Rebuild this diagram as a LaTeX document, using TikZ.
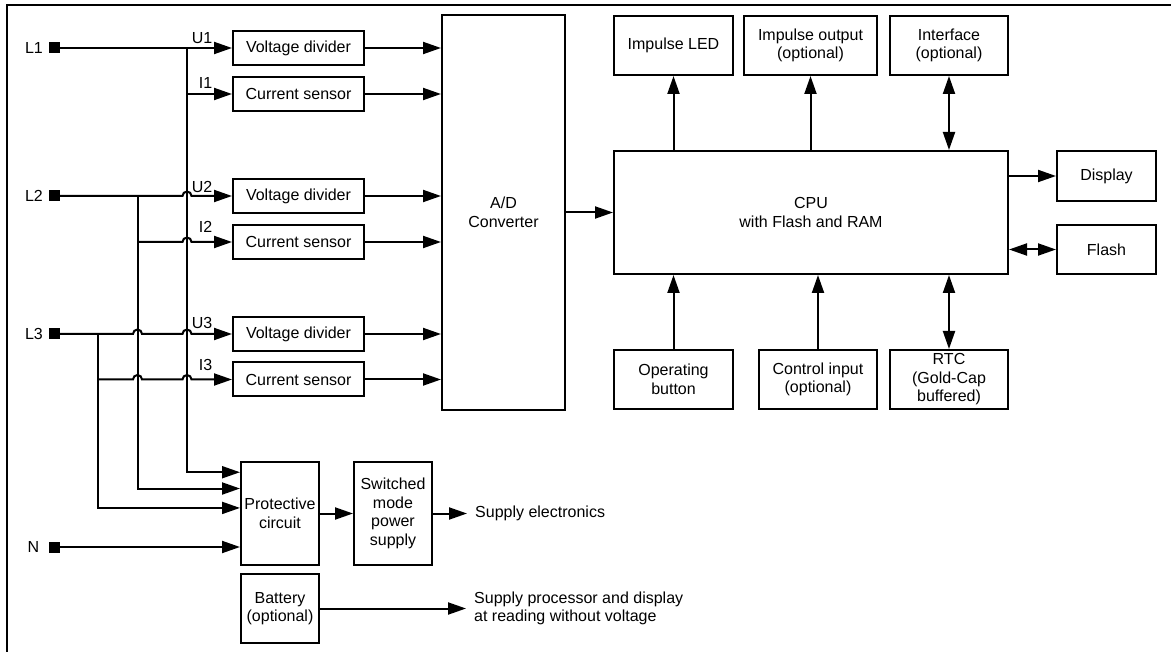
\documentclass[tikz,border=0pt]{standalone}
\usepackage{fontspec}
\setmainfont{Liberation Sans}
\usetikzlibrary{arrows.meta, calc}

\tikzset{
  block/.style={draw, line width=2pt, align=center, inner sep=0pt},
  sensor/.style={block, minimum width=131pt, minimum height=34pt},
  periph/.style={block, minimum width=118pt, minimum height=59pt},
  side/.style={block, minimum width=99pt, minimum height=49pt},
  power/.style={block, minimum width=78pt, minimum height=103pt},
  wire/.style={line width=2pt, >={Triangle[length=18pt, width=12pt]}},
  terminal/.style={fill, minimum size=11pt, inner sep=0pt},
  tag/.style={inner sep=0pt}
}

\begin{document}
\begin{tikzpicture}[x=1pt, y=-1pt, font=\fontsize{16}{18.5}\selectfont]
    \useasboundingbox (0,0) rectangle (1171,652);

    % Frame
    \draw[line width=2.8pt] (7,652) -- (7,5) -- (1171,5);

    % Terminals
    \node[terminal] (L1) at (54.5,48) {};
    \node[terminal] (L2) at (54.5,196) {};
    \node[terminal] (L3) at (54.5,334) {};
    \node[terminal] (N) at (54.5,547) {};
    \node[tag] (tL1) at (34,48) {L1};
    \node[tag] (tL2) at (34,196) {L2};
    \node[tag] (tL3) at (34,334) {L3};
    \node[tag] (tN) at (33.5,547) {N};

    \coordinate (b1) at (187,48);
    \coordinate (b2) at (137.5,196);
    \coordinate (b3) at (98,334);

    % A/D converter and CPU
    \node[block, minimum width=123pt, minimum height=395pt] (AD) at (503.5,212.5) {A/D\\Converter};
    \node[block, minimum width=394pt, minimum height=123pt] (CPU) at (811,212.5) {CPU\\with Flash and RAM};
    \draw[wire,->] (AD) -- (CPU);

    % Measuring paths
    \foreach \i/\yu/\yi/\lu/\li in {1/48/94/38/83, 2/196/242/187/227, 3/334/379.5/323/365} {
      \node[sensor] (VD\i) at (298.5,\yu) {Voltage divider};
      \node[sensor] (CS\i) at (298.5,\yi) {Current sensor};
      \node[tag] (U\i) at (202,\lu) {U\i};
      \node[tag] (I\i) at (205.5,\li) {I\i};
      \draw[wire,->] (VD\i.east) -- (VD\i.east -| AD.west);
      \draw[wire,->] (CS\i.east) -- (CS\i.east -| AD.west);
    }

    % Phase lines with jumps
    \draw[wire,->] (L1) -- (VD1.west);
    \draw[wire,->] (b1 |- CS1) -- (CS1.west);
    \draw[wire,->] (L2) -- ($(L2 -| b1)+(-4.5,0)$) arc[start angle=180, end angle=0, radius=4.5pt] -- (VD2.west);
    \draw[wire,->] (b2 |- CS2) -- ($(CS2 -| b1)+(-4.5,0)$) arc[start angle=180, end angle=0, radius=4.5pt] -- (CS2.west);
    \draw[wire,->] (L3) -- ($(L3 -| b2)+(-4.5,0)$) arc[start angle=180, end angle=0, radius=4.5pt]
      -- ($(L3 -| b1)+(-4.5,0)$) arc[start angle=180, end angle=0, radius=4.5pt] -- (VD3.west);
    \draw[wire,->] (b3 |- CS3) -- ($(CS3 -| b2)+(-4.5,0)$) arc[start angle=180, end angle=0, radius=4.5pt]
      -- ($(CS3 -| b1)+(-4.5,0)$) arc[start angle=180, end angle=0, radius=4.5pt] -- (CS3.west);

    % Power supply
    \node[power] (Prot) at (280,513.5) {Protective\\circuit};
    \node[power] (SMPS) at (393,513.5) {Switched\\mode\\power\\supply};
    \node[block, minimum width=78pt, minimum height=69pt] (Bat) at (280,608.5) {Battery\\(optional)};
    \node[anchor=west, inner xsep=8pt] (supel) at (467,513.5) {Supply electronics};
    \node[anchor=west, inner xsep=8pt, align=left] (supbat) at (466,608.5) {Supply processor and display\\at reading without voltage};

    \draw[wire,->] (b1) |- ($(Prot.north west)!0.107!(Prot.south west)$);
    \draw[wire,->] (b2) |- ($(Prot.north west)!0.262!(Prot.south west)$);
    \draw[wire,->] (b3) |- ($(Prot.north west)!0.447!(Prot.south west)$);
    \draw[wire,->] (N) -- (N -| Prot.west);
    \draw[wire,->] (Prot) -- (SMPS);
    \draw[wire,->] (SMPS) -- (supel);
    \draw[wire,->] (Bat) -- (supbat);

    % Peripherals
    \node[periph, minimum width=119pt] (LED) at (673.5,45.5) {Impulse LED};
    \node[periph, minimum width=133pt] (IOut) at (810.5,45.5) {Impulse output\\(optional)};
    \node[periph] (IFace) at (949,45.5) {Interface\\(optional)};
    \node[periph, minimum width=119pt] (OpBtn) at (673.5,379.5) {Operating\\button};
    \node[periph] (CtrlIn) at (818,379.5) {Control input\\(optional)};
    \node[periph] (RTC) at (949,379.5) {RTC\\(Gold-Cap\\buffered)};
    \node[side, minimum height=50pt] (Disp) at (1106.5,176) {Display};
    \node[side] (Flash) at (1106.5,249.5) {Flash};

    \draw[wire,->] (CPU.north -| LED) -- (LED);
    \draw[wire,->] (CPU.north -| IOut) -- (IOut);
    \draw[wire,<->] (CPU.north -| IFace) -- (IFace);
    \draw[wire,->] (OpBtn) -- (OpBtn |- CPU.south);
    \draw[wire,->] (CtrlIn) -- (CtrlIn |- CPU.south);
    \draw[wire,<->] (RTC) -- (RTC |- CPU.south);
    \draw[wire,->] (CPU.east |- Disp) -- (Disp);
    \draw[wire,<->] (CPU.east |- Flash) -- (Flash);
\end{tikzpicture}
\end{document}
